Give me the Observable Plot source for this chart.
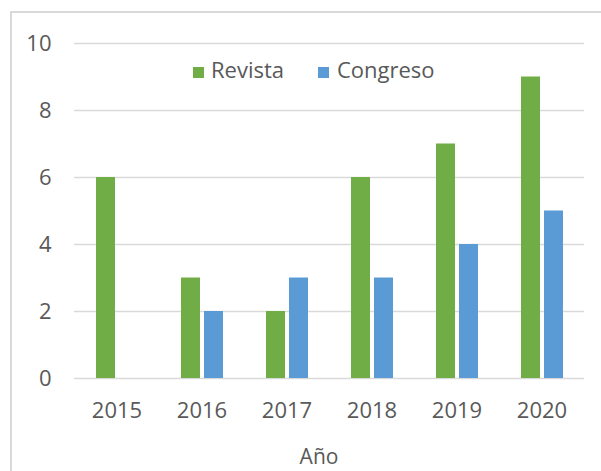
<!DOCTYPE html>
<html>
<head>
<meta charset="utf-8">
<script src="https://cdn.jsdelivr.net/npm/d3@7"></script>
<script src="https://cdn.jsdelivr.net/npm/@observablehq/plot@0.6"></script>
<style>
  body { margin: 0; background: #fff; }
  #wrap { position: relative; width: 601px; height: 471px; overflow: hidden; font-family: "Open Sans", sans-serif; color: #595959; }
  #frame { position: absolute; left: 10px; top: 11px; width: 620px; height: 480px; border-left: 2px solid #d9d9d9; border-top: 2px solid #d9d9d9; }
  .lg { position: absolute; font-size: 22px; line-height: 22px; white-space: nowrap; }
  .sw { position: absolute; width: 11px; height: 11px; }
  #xtitle { position: absolute; font-size: 21px; line-height: 21px; left: 319px; top: 446px; transform: translateX(-50%); }
</style>
</head>
<body>
<div id="wrap">
  <div id="frame"></div>
  <div id="chart"></div>
  <div class="sw" style="left:193px; top:67px; background:#70ad47"></div>
  <div class="lg" style="left:211px; top:58px">Revista</div>
  <div class="sw" style="left:318px; top:67px; background:#5b9bd5"></div>
  <div class="lg" style="left:337px; top:58px">Congreso</div>
  <div id="xtitle">Año</div>
</div>
<script>
const years = ["2015", "2016", "2017", "2018", "2019", "2020"];
const series = ["Revista", "Congreso"];
const revista = [6, 3, 2, 6, 7, 9];
const congreso = [0, 2, 3, 3, 4, 5];
const yTicks = [0, 2, 4, 6, 8, 10];
const colors = ["#70ad47", "#5b9bd5"];

const rows = [];
years.forEach((y, i) => {
  rows.push({year: y, series: "Revista", value: revista[i]});
  rows.push({year: y, series: "Congreso", value: congreso[i]});
});

const chart = Plot.plot({
  width: 601,
  height: 471,
  marginLeft: 73,
  marginRight: 16,
  marginTop: 43,
  marginBottom: 93,
  style: {fontSize: "22px", fontFamily: "Open Sans, sans-serif", color: "#595959", background: "transparent"},
  facet: {data: rows, x: "year"},
  fx: {domain: years, padding: 0, axis: "bottom", tickSize: 0, tickPadding: 24, label: null},
  x: {domain: series, paddingInner: 0.1875, paddingOuter: 0.87, axis: null},
  y: {domain: [0, 10], ticks: yTicks, tickSize: 0, tickPadding: 23, label: null},
  color: {domain: series, range: colors},
  marks: [
    Plot.ruleY(yTicks, {stroke: "#d9d9d9", strokeWidth: 1.3}),
    Plot.barY(rows, {x: "series", y: "value", fill: "series"})
  ]
});
document.getElementById("chart").appendChild(chart);
</script>
</body>
</html>
